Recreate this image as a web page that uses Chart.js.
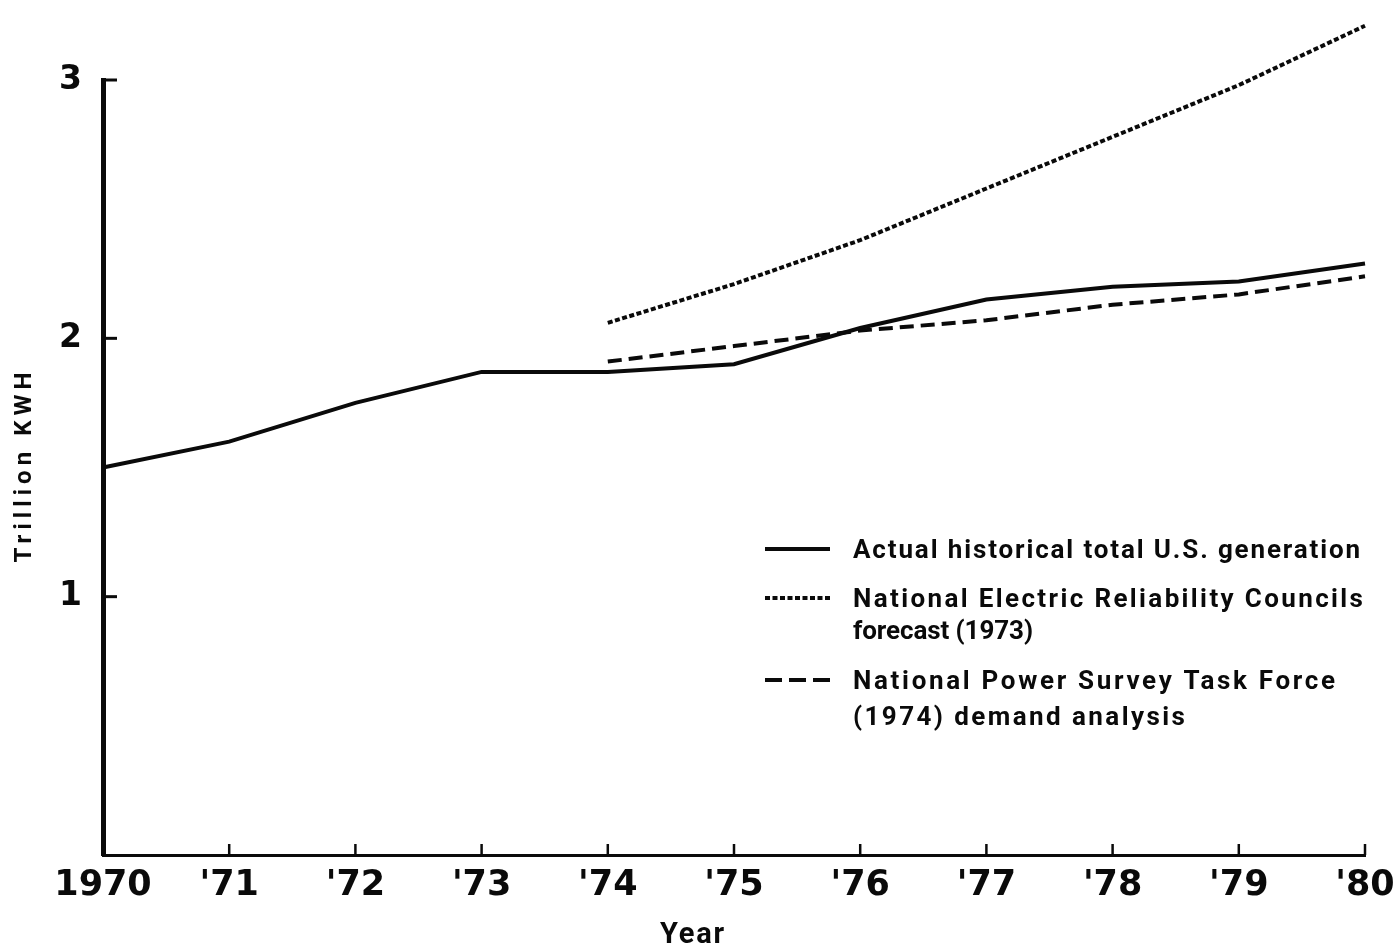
<!DOCTYPE html>
<html>
<head>
<meta charset="utf-8">
<title>U.S. electricity generation vs. forecasts, 1970–1980</title>
<script src="https://cdn.jsdelivr.net/npm/chart.js@4.4.0/dist/chart.umd.min.js"></script>
<style>
  html, body { margin: 0; padding: 0; background: #ffffff; }
  #wrap { width: 1400px; height: 950px; }
</style>
</head>
<body>
<div id="wrap"><canvas id="chart" width="1400" height="950"></canvas></div>
<script>
// Years on the horizontal axis and their printed labels
const years = ['1970', '1971', '1972', '1973', '1974', '1975', '1976', '1977', '1978', '1979', '1980'];
const yearTickLabels = ['1970', "'71", "'72", "'73", "'74", "'75", "'76", "'77", "'78", "'79", "'80"];

// Trillion kWh
const actualGeneration = [1.50, 1.60, 1.75, 1.87, 1.87, 1.90, 2.04, 2.15, 2.20, 2.22, 2.29];
const nercForecast1973 = [null, null, null, null, 2.06, 2.21, 2.38, 2.58, 2.78, 2.98, 3.21];
const npsTaskForce1974 = [null, null, null, null, 1.91, 1.97, 2.03, 2.07, 2.13, 2.17, 2.24];

// Labelled values on the vertical axis
const valueTicks = [1, 2, 3];

// Legend rows: line style and text lines
const legendLabels = [
  ['Actual historical total U.S. generation'],
  ['National Electric Reliability Councils', 'forecast (1973)'],
  ['National Power Survey Task Force', '(1974) demand analysis']
];

const INK = '#0a0a0a';
const SOLID = [];
const DOTTED = [5, 2.5];
const DASHED = [14, 7];
const legendDashes = [SOLID, [5, 2.5], [17, 7]];

// Draws a string stretched to a given width by spacing its letters
function fittedText(ctx, text, x, y, width, font, align) {
  ctx.save();
  ctx.font = font;
  ctx.letterSpacing = '0px';
  const natural = ctx.measureText(text).width;
  const spacing = (width - natural) / Math.max(text.length - 1, 1);
  ctx.letterSpacing = spacing.toFixed(2) + 'px';
  ctx.textBaseline = 'alphabetic';
  ctx.textAlign = 'left';
  let startX = x;
  if (align === 'center') startX = x - width / 2;
  ctx.fillText(text, startX, y);
  ctx.restore();
}

const decorations = {
  id: 'decorations',
  afterDraw(chart) {
    const { ctx, chartArea, scales } = chart;
    const xs = scales.x, ys = scales.y;
    ctx.save();
    ctx.strokeStyle = INK;
    ctx.fillStyle = INK;
    ctx.lineCap = 'butt';

    // inward tick marks on the value axis
    ctx.lineWidth = 3;
    valueTicks.forEach(v => {
      const py = ys.getPixelForValue(v);
      ctx.beginPath();
      ctx.moveTo(chartArea.left, py);
      ctx.lineTo(chartArea.left + 14, py);
      ctx.stroke();
    });

    // upward tick marks on the year axis
    ctx.lineWidth = 2.5;
    years.forEach((y, i) => {
      if (i === 0) return;
      const px = xs.getPixelForValue(i);
      ctx.beginPath();
      ctx.moveTo(px, chartArea.bottom);
      ctx.lineTo(px, chartArea.bottom - 11);
      ctx.stroke();
    });

    // axis titles
    fittedText(ctx, 'Year', 692, 943, 64, 'bold 29px Roboto', 'center');
    ctx.save();
    ctx.translate(31, (chartArea.top + chartArea.bottom) / 2);
    ctx.rotate(-Math.PI / 2);
    fittedText(ctx, 'Trillion KWH', 0, 0, 190, 'bold 24px Roboto', 'center');
    ctx.restore();

    // legend
    const sampleX0 = 765, sampleX1 = 830, textX = 853;
    const rowY = [[549], [598, 630], [680, 716]];
    const widths = [[507], [510, 180], [482, 332]];
    legendLabels.forEach((lines, r) => {
      ctx.save();
      ctx.lineWidth = 4;
      ctx.setLineDash(legendDashes[r]);
      ctx.beginPath();
      ctx.moveTo(sampleX0, rowY[r][0]);
      ctx.lineTo(sampleX1, rowY[r][0]);
      ctx.stroke();
      ctx.restore();
      lines.forEach((t, k) => {
        fittedText(ctx, t, textX, rowY[r][k] + 9, widths[r][k], 'bold 26px Roboto', 'left');
      });
    });
    ctx.restore();
  }
};

const lineStyle = (dash) => ({
  borderColor: INK,
  borderWidth: 4,
  borderDash: dash,
  pointRadius: 0,
  pointHoverRadius: 0,
  tension: 0,
  fill: false,
  clip: false,
  spanGaps: false
});

new Chart(document.getElementById('chart'), {
  type: 'line',
  data: {
    labels: years,
    datasets: [
      Object.assign({ label: legendLabels[0].join(' '), data: actualGeneration }, lineStyle(SOLID)),
      Object.assign({ label: legendLabels[1].join(' '), data: nercForecast1973 }, lineStyle(DOTTED)),
      Object.assign({ label: legendLabels[2].join(' '), data: npsTaskForce1974 }, lineStyle(DASHED))
    ]
  },
  options: {
    responsive: false,
    devicePixelRatio: 1,
    animation: false,
    events: [],
    layout: { padding: { top: 80, right: 35, left: 0, bottom: 0 } },
    plugins: {
      legend: { display: false },
      tooltip: { enabled: false },
      title: { display: false }
    },
    scales: {
      x: {
        type: 'category',
        offset: false,
        grid: { display: false, drawTicks: false },
        border: { display: true, color: INK, width: 3 },
        ticks: {
          autoSkip: false,
          maxRotation: 0,
          minRotation: 0,
          padding: 10,
          color: INK,
          font: { family: 'DejaVu Sans', weight: 'bold', size: 35 },
          callback: (v, i) => yearTickLabels[i]
        },
        afterFit: s => { s.height = 95; s.paddingLeft = 0; s.paddingRight = 0; }
      },
      y: {
        min: 0,
        max: 3,
        grid: { display: false, drawTicks: false },
        border: { display: true, color: INK, width: 5 },
        afterBuildTicks: s => { s.ticks = valueTicks.map(v => ({ value: v })); },
        ticks: {
          padding: 21,
          color: INK,
          font: { family: 'DejaVu Sans', weight: 'bold', size: 33 },
          callback: v => String(v)
        },
        afterFit: s => { s.width = 103; }
      }
    }
  },
  plugins: [decorations]
});
</script>
</body>
</html>
